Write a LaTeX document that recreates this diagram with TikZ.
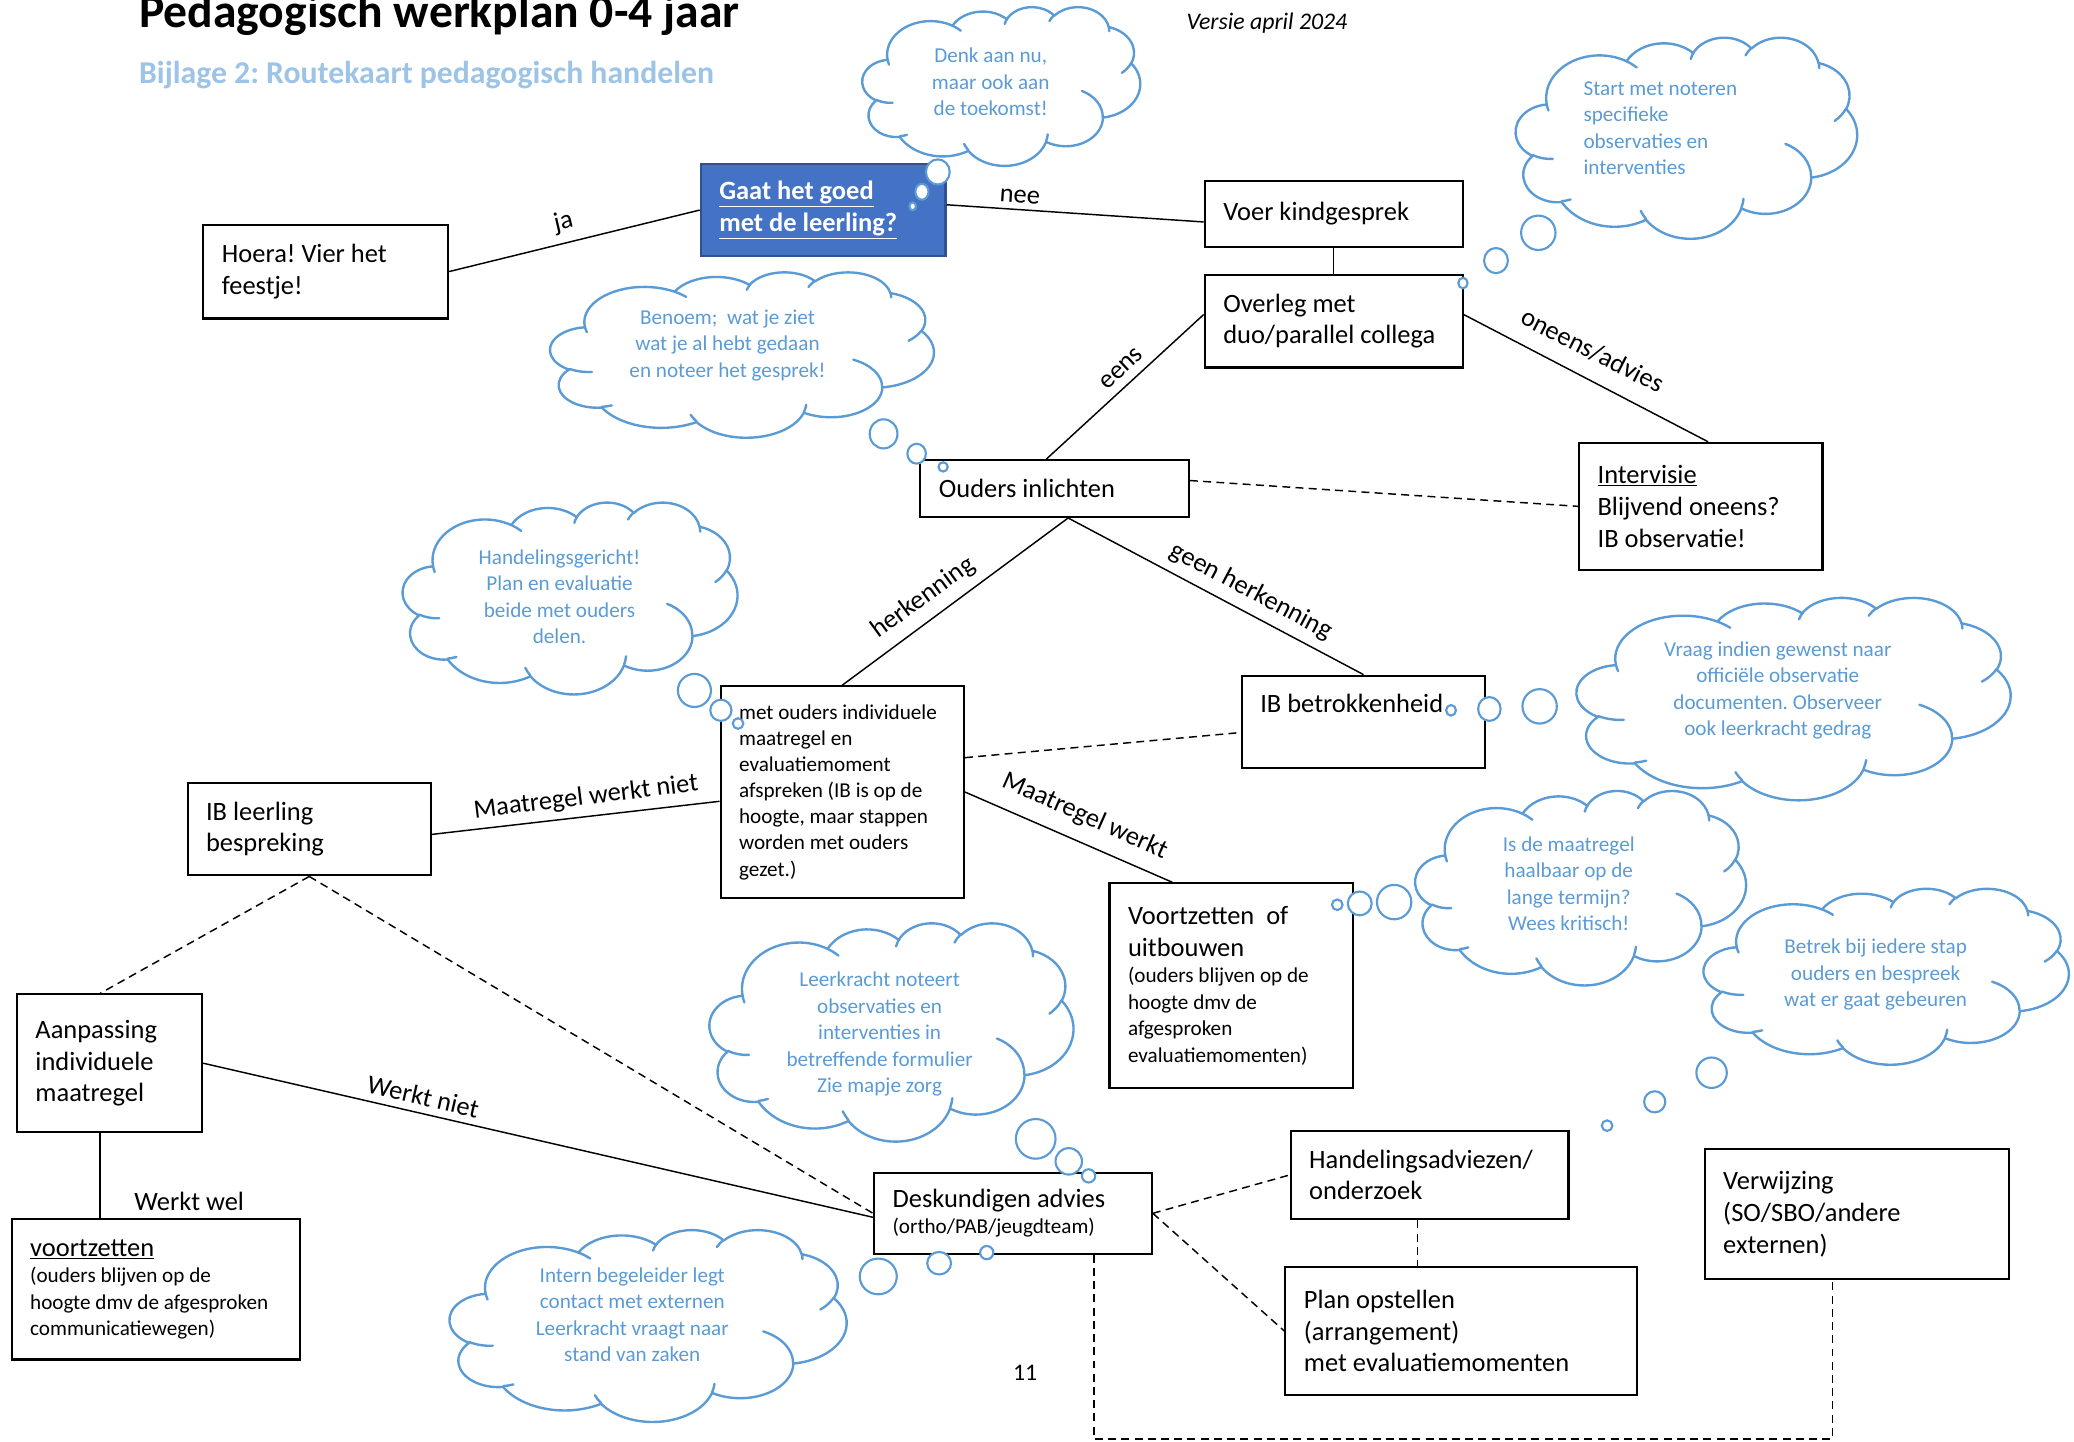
\documentclass[tikz,border=0pt]{standalone}
\usepackage{fontspec}
\setmainfont{Carlito}
\usetikzlibrary{calc}
\definecolor{cblue}{HTML}{5B9BD5}
\definecolor{subblue}{HTML}{9DC3E6}
\definecolor{boxblue}{HTML}{4472C4}
\definecolor{boxborder}{HTML}{2F528F}
\frenchspacing
% one arc of the Word cloud outline: x radius, y radius, visual start angle, visual sweep
\newcommand\cA[4]{\pgfextra{%
  \pgfmathsetmacro\cldA{#3}\pgfmathsetmacro\cldB{#3+#4}%
  \pgfmathsetmacro\cldTa{atan2(#1*sin(\cldA),#2*cos(\cldA))}%
  \pgfmathsetmacro\cldTa{\cldTa+360*round((\cldA-\cldTa)/360)}%
  \pgfmathsetmacro\cldTb{atan2(#1*sin(\cldB),#2*cos(\cldB))}%
  \pgfmathsetmacro\cldTb{\cldTb+360*round((\cldB-\cldTb)/360)}%
  \global\let\cldTa\cldTa \global\let\cldTb\cldTb}%
  arc[start angle=\cldTa, end angle=\cldTb, x radius=#1, y radius=#2]}
% Word style cloud: centre x, centre y, width, height
\newcommand\wcloud[4]{%
 \begin{scope}[shift={(#1-#3/2,#2-#4/2)}, xscale=#3/432, yscale=#4/432]
 \path[cloudline, fill=white] (39.00,143.70)
   \cA{67.53}{91.90}{-190.4875}{123.7805}
   \cA{53.33}{72.67}{-144.1024}{89.9452}
   \cA{43.65}{59.45}{-145.8079}{99.7230}
   \cA{48.57}{65.95}{-130.9861}{117.2417}
   \cA{53.33}{72.73}{-78.7089}{109.0269}
   \cA{67.75}{92.20}{-46.2673}{130.2690}
   \cA{57.85}{78.67}{0.6250}{114.0333}
   \cA{67.52}{92.15}{22.4516}{115.1726}
   \cA{77.20}{105.43}{66.2426}{75.7110}
   \cA{43.60}{59.18}{-274.9421}{146.7356}
   \cA{43.45}{59.45}{-246.8285}{152.5189}
   -- cycle;
 \path[cloudline]
   (46.93,261.77) \cA{43.45}{59.45}{86.7420}{26.4295}
   (69.28,348.99) \cA{43.60}{59.18}{73.6105}{11.4475}
   (164.78,390.90) \cA{67.52}{92.15}{137.6242}{14.0811}
   (288.27,347.51) \cA{67.52}{92.15}{6.4533}{15.9984}
   (341.29,229.54) \cA{57.85}{78.67}{-70.2924}{70.9174}
   (417.98,153.54) \cA{53.33}{72.73}{30.3180}{27.7515}
   (383.24,54.26) \cA{48.57}{65.95}{-13.7443}{14.8589}
   (290.78,39.52) \cA{48.57}{65.95}{-149.1815}{18.1954}
   (221.41,47.20) \cA{43.65}{59.45}{-163.4943}{18.2993}
   (140.00,51.92) \cA{67.53}{91.90}{-66.7070}{12.3194}
   (41.27,157.89) \cA{67.53}{91.90}{157.6544}{11.8582};
 \end{scope}}
\begin{document}
\begin{tikzpicture}[x=1pt,y=-1pt,
  box/.style={draw, line width=1.6pt, fill=white, inner xsep=14pt, inner ysep=0pt, align=flush left, anchor=north west, font=\fontsize{20}{24}\selectfont},
  smallbox/.style={box, font=\fontsize{16}{19.8}\selectfont},
  lbl/.style={font=\fontsize{20}{24}\selectfont, inner sep=0pt},
  conn/.style={line width=1.1pt},
  dconn/.style={line width=1.1pt, dash pattern=on 6pt off 4pt},
  cloudline/.style={draw=cblue, line width=1.8pt, line cap=round, line join=round},
  ctext/.style={text=cblue, font=\fontsize{16}{20}\selectfont, align=flush center, inner sep=0pt},
  bub/.style={draw=cblue, line width=1.6pt, fill=white}
]
\useasboundingbox (0,0) rectangle (1568,1090);
\fill[white] (0,0) rectangle (1568,1090);

% titles
\node[anchor=base west, inner sep=0pt, font=\fontsize{36}{40}\selectfont\bfseries] (title) at (105,21) {Pedagogisch werkplan 0-4 jaar};
\node[anchor=base west, inner sep=0pt, text=subblue, font=\fontsize{24}{28}\selectfont\bfseries] (subtitle) at (105,63) {Bijlage 2: Routekaart pedagogisch handelen};
\node[anchor=base west, inner sep=0pt, font=\fontsize{18}{22}\selectfont\itshape] (versie) at (897,22) {Versie april 2024};
\node[inner sep=0pt, font=\fontsize{18}{22}\selectfont] (pagenum) at (775,1038) {11};

% boxes
\node[box, minimum width=185, minimum height=71, text width=157] (hoera) at (153,169) {Hoera! Vier het\\feestje!};
\node[box, fill=boxblue, draw=boxborder, text=white, font=\fontsize{20}{24}\selectfont\bfseries, minimum width=185, minimum height=70, text width=157] (gaat) at (529,123) {\underline{Gaat het goed}\\\underline{met de leerling?}};
\node[box, minimum width=195, minimum height=50, text width=167] (voer) at (910,136) {Voer kindgesprek};
\node[box, minimum width=195, minimum height=70, text width=167] (overleg) at (910,207) {Overleg met\\duo/parallel collega};
\node[box, minimum width=203, minimum height=43, text width=175] (ouders) at (695,347) {Ouders inlichten};
\node[box, minimum width=184, minimum height=96, text width=156] (intv) at (1193,334) {\underline{Intervisie}\\Blijvend oneens?\\IB observatie!};
\node[smallbox, minimum width=184, minimum height=160, text width=156] (met) at (544,518) {met ouders individuele\\maatregel en\\evaluatiemoment\\afspreken (IB is op de\\hoogte, maar stappen\\worden met ouders\\gezet.)};
\node[box, minimum width=184, minimum height=70, text width=156] (ibb) at (938,510) {IB betrokkenheid\\[4pt]\mbox{}};
\node[box, minimum width=184, minimum height=70, text width=156] (iblr) at (141,591) {IB leerling\\bespreking};
\node[box, minimum width=184, minimum height=155, text width=156] (voort) at (838,667) {Voortzetten~ of\\uitbouwen\par\fontsize{16}{20}\selectfont (ouders blijven op de\\hoogte dmv de\\afgesproken\\evaluatiemomenten)\par};
\node[box, minimum width=140, minimum height=104, text width=112] (aanp) at (12,751) {Aanpassing\\individuele\\maatregel};
\node[box, minimum width=218, minimum height=106, text width=190] (voortz) at (8,921) {\underline{voortzetten}\par\fontsize{16}{20}\selectfont (ouders blijven op de\\hoogte dmv de afgesproken\\communicatiewegen)\par};
\node[box, minimum width=210, minimum height=61, text width=182] (desk) at (660,886) {Deskundigen advies\par\fontsize{16}{20}\selectfont (ortho/PAB/jeugdteam)\par};
\node[box, minimum width=210, minimum height=67, text width=182] (hand) at (975,854) {Handelingsadviezen/\\onderzoek};
\node[box, minimum width=266, minimum height=97, text width=238] (plan) at (971,957) {Plan opstellen\\(arrangement)\\met evaluatiemomenten};
\node[box, minimum width=230, minimum height=98, text width=202] (verw) at (1288,868) {Verwijzing\\(SO/SBO/andere\\externen)};

% connectors
\coordinate (oudbot) at ($(ouders.south west)!0.55!(ouders.south east)$);
\coordinate (aanptop) at ($(aanp.north west)!0.45!(aanp.north east)$);
\coordinate (aanpbot) at ($(aanp.south west)!0.45!(aanp.south east)$);
\coordinate (handbot) at ($(hand.south west)!0.457!(hand.south east)$);
\coordinate (deskbot) at ($(desk.south west)!0.79!(desk.south east)$);
\coordinate (verwbot) at ($(verw.south west)!0.42!(verw.south east)$);
\coordinate (lowrow) at (0,1088);
\draw[conn] (hoera.east) -- (gaat.west);
\draw[conn] ([yshift=4pt]gaat.east) -- ([yshift=-6pt]voer.west);
\draw[conn] (voer.south) -- (overleg.north);
\draw[conn] ([yshift=5pt]overleg.west) -- ($(ouders.north west)!0.47!(ouders.north east)$);
\draw[conn] ([yshift=5pt]overleg.east) -- ($(intv.north west)!0.53!(intv.north east)$);
\draw[dconn] ([yshift=6pt]ouders.east) -- (intv.west);
\draw[conn] (oudbot) -- (met.north);
\draw[conn] (oudbot) -- (ibb.north);
\draw[dconn] ([yshift=26pt]met.east) -- ([yshift=-8pt]ibb.west);
\draw[conn] ([yshift=-7pt]met.west) -- ([yshift=-4pt]iblr.east);
\draw[conn] (met.east) -- ($(voort.north west)!0.26!(voort.north east)$);
\draw[dconn] (iblr.south) -- (aanptop);
\draw[dconn] (iblr.south) -- (desk.west);
\draw[conn] (aanp.east) -- ([yshift=-3pt]desk.west);
\draw[conn] (aanpbot) -- (aanpbot |- voortz.north);
\draw[dconn] (desk.east) -- (hand.west);
\draw[dconn] (desk.east) -- (plan.west);
\draw[dconn] (handbot) -- (handbot |- plan.north);
\draw[dconn] (deskbot) -- (deskbot |- lowrow) -- (verwbot |- lowrow) -- (verwbot);

% labels
\node[lbl, rotate=13] (l-ja) at (426,168) {ja};
\node[lbl, rotate=-4] (l-nee) at (771,149) {nee};
\node[lbl, rotate=43] (l-eens) at (848,279) {eens};
\node[lbl, rotate=-27] (l-oneens) at (1204,265) {oneens/advies};
\node[lbl, rotate=36] (l-herk) at (698,452) {herkenning};
\node[lbl, rotate=-28] (l-geen) at (946,447) {geen herkenning};
\node[lbl, rotate=7] (l-mwn) at (443,603) {Maatregel werkt niet};
\node[lbl, rotate=-24] (l-mw) at (820,617) {Maatregel werkt};
\node[lbl, rotate=-13] (l-wn) at (320,829) {Werkt niet};
\node[lbl] (l-ww) at (143,908) {Werkt wel};

% clouds
\wcloud{757}{65}{210}{120}
\node[ctext] (cAt) at (749,62) {Denk aan nu,\\maar ook aan\\de toekomst!};
\wcloud{1275}{104}{258}{152}
\node[ctext, align=flush left, anchor=west] (cBt) at (1197,97) {Start met noteren\\specifieke\\observaties en\\interventies};
\wcloud{561}{268}{290}{125}
\node[ctext] (cCt) at (550,261) {Benoem;\ \ wat je ziet\\wat je al hebt gedaan\\en noteer het gesprek!};
\wcloud{431}{452}{253}{145}
\node[ctext] (cDt) at (423,451) {Handelingsgericht!\\Plan en evaluatie\\beide met ouders\\delen.};
\wcloud{1356}{528}{328}{153}
\node[ctext] (cEt) at (1344,522) {Vraag indien gewenst naar\\officiële observatie\\documenten. Observeer\\ook leerkracht gedrag};
\wcloud{1195}{671}{250}{147}
\node[ctext] (cFt) at (1186,668) {Is de maatregel\\haalbaar op de\\lange termijn?\\Wees kritisch!};
\wcloud{1426}{738}{276}{133}
\node[ctext] (cGt) at (1418,737) {Betrek bij iedere stap\\ouders en bespreek\\wat er gaat gebeuren};
\wcloud{674}{780}{275}{165}
\node[ctext] (cHt) at (665,782) {Leerkracht noteert\\observaties en\\interventies in\\betreffende formulier\\Zie mapje zorg};
\wcloud{490}{1002}{300}{145}
\node[ctext] (cIt) at (478,994) {Intern begeleider legt\\contact met externen\\Leerkracht vraagt naar\\stand van zaken};

% thought bubbles
\draw[bub] (709,130) ellipse [x radius=9, y radius=9.5];
\draw[bub] (697,145) ellipse [x radius=5, y radius=6];
\draw[bub] (690,156) ellipse [x radius=2.5, y radius=3];
\draw[bub] (1163,176) ellipse [x radius=13, y radius=13];
\draw[bub] (1131,197) ellipse [x radius=9, y radius=9.5];
\draw[bub] (1106,214) ellipse [x radius=3.5, y radius=4];
\draw[bub] (668,328) ellipse [x radius=10.5, y radius=11];
\draw[bub] (693,343) ellipse [x radius=7, y radius=7.5];
\draw[bub] (713,353) ellipse [x radius=3.5, y radius=3.5];
\draw[bub] (525,522) ellipse [x radius=12.5, y radius=12.5];
\draw[bub] (545,537) ellipse [x radius=8, y radius=8];
\draw[bub] (558,547) ellipse [x radius=4, y radius=4];
\draw[bub] (1164,534) ellipse [x radius=13, y radius=13];
\draw[bub] (1126,536) ellipse [x radius=8.5, y radius=9];
\draw[bub] (1097,537) ellipse [x radius=3.7, y radius=4];
\draw[bub] (1054,682) ellipse [x radius=13, y radius=13];
\draw[bub] (1028,683) ellipse [x radius=9, y radius=9];
\draw[bub] (1011,684) ellipse [x radius=4, y radius=4];
\draw[bub] (1294,811) ellipse [x radius=11.5, y radius=11.5];
\draw[bub] (1251,833) ellipse [x radius=8, y radius=8];
\draw[bub] (1215,851) ellipse [x radius=4, y radius=4];
\draw[bub] (783,861) ellipse [x radius=15, y radius=15];
\draw[bub] (808,878) ellipse [x radius=10, y radius=10];
\draw[bub] (823,889) ellipse [x radius=5, y radius=5];
\draw[bub] (664,965) ellipse [x radius=14, y radius=13.5];
\draw[bub] (710,955) ellipse [x radius=9, y radius=8.5];
\draw[bub] (746,947) ellipse [x radius=5, y radius=5];
\end{tikzpicture}
\end{document}
